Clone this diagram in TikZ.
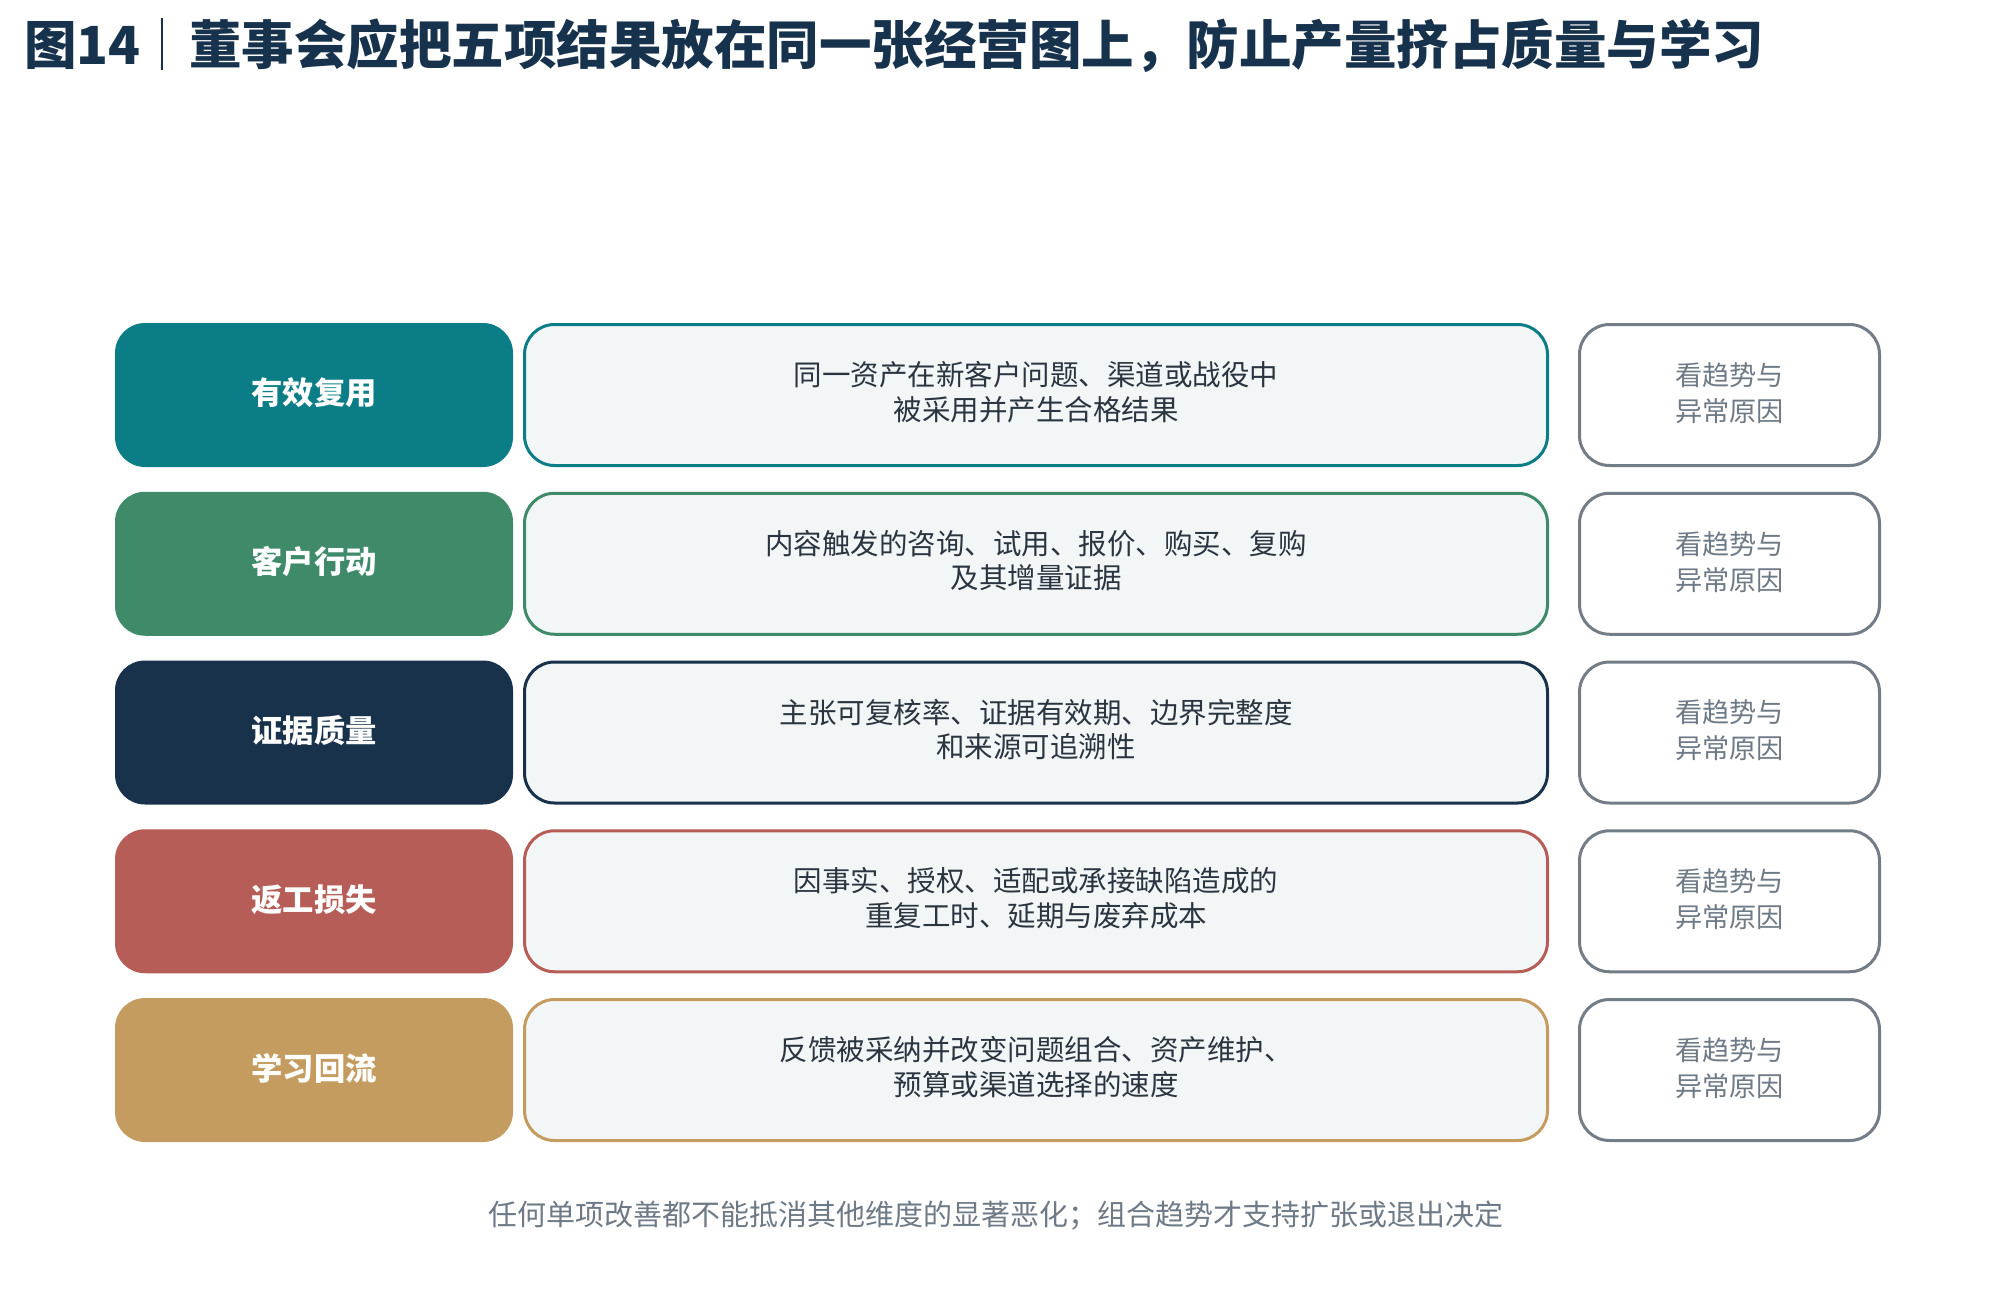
\documentclass[tikz,border=0pt]{standalone}
\usepackage{fontspec}
\setmainfont{Noto Sans CJK SC}
\definecolor{cteal}{HTML}{0A7D87}
\definecolor{cgreen}{HTML}{3F8B69}
\definecolor{cnavy}{HTML}{17324A}
\definecolor{cred}{HTML}{B55D56}
\definecolor{cgold}{HTML}{C49C5F}
\definecolor{midfill}{HTML}{F2F6F7}
\definecolor{grayline}{HTML}{727D88}
\definecolor{graytext}{HTML}{6E7A86}
\definecolor{midtext}{HTML}{2B3540}
\definecolor{titlecol}{HTML}{17324D}
\begin{document}
\begin{tikzpicture}[x=1pt,y=-1pt,
  labelbox/.style={rectangle, rounded corners=30pt, minimum width=398pt, minimum height=144pt, inner sep=0pt},
  labeltext/.style={inner sep=0pt, text=white, font=\fontsize{31.3}{36}\selectfont\bfseries},
  descbox/.style={rectangle, rounded corners=30pt, draw=#1, line width=3pt, fill=midfill, minimum width=1023pt, minimum height=141pt, inner sep=0pt},
  desctext/.style={inner sep=0pt, align=center, text=midtext, font=\fontsize{28.5}{34.5}\selectfont},
  trendbox/.style={rectangle, rounded corners=30pt, draw=grayline, line width=3pt, fill=white, minimum width=300pt, minimum height=141pt, inner sep=0pt},
  trendtext/.style={inner sep=0pt, align=center, text=graytext, font=\fontsize{27.2}{36}\selectfont},
  titletext/.style={inner sep=0pt, anchor=base west, text=titlecol, font=\fontsize{52.5}{60}\selectfont\bfseries},
]
\useasboundingbox (0,0) rectangle (1995,1301);
\fill[white] (0,0) rectangle (1995,1301);

% title
\node[titletext] (t1) at (24,64) {图14};
\node[titletext] (t2) at (189,64) {董事会应把五项结果放在同一张经营图上，防止产量挤占质量与学习};
\coordinate (barTop) at (162,18);
\coordinate (barBot) at (162,70);
\draw[titlecol, line width=2pt] (barTop) -- (barBot);

% rows
\foreach \i/\col/\lab/\la/\lb in {
  0/cteal/有效复用/同一资产在新客户问题、渠道或战役中/被采用并产生合格结果,
  1/cgreen/客户行动/内容触发的咨询、试用、报价、购买、复购/及其增量证据,
  2/cnavy/证据质量/主张可复核率、证据有效期、边界完整度/和来源可追溯性,
  3/cred/返工损失/因事实、授权、适配或承接缺陷造成的/重复工时、延期与废弃成本,
  4/cgold/学习回流/反馈被采纳并改变问题组合、资产维护、/预算或渠道选择的速度}
{
  \pgfmathsetmacro{\yc}{395+\i*168.75}
  \node[labelbox, fill=\col] (lab\i) at (314,\yc) {};
  \node[labeltext] (labt\i) at (314,\yc-2) {\lab};
  \node[descbox=\col] (desc\i) at (1036,\yc) {};
  \node[desctext] (desct\i) at (1036,\yc-3) {\la\\\lb};
  \node[trendbox] (trend\i) at (1729.5,\yc) {};
  \node[trendtext] (trendt\i) at (1729.5,\yc-2) {看趋势与\\异常原因};
}

% footer
\node[inner sep=0pt, anchor=base, text=graytext, font=\fontsize{29}{34}\selectfont] (foot) at (996,1225) {任何单项改善都不能抵消其他维度的显著恶化；组合趋势才支持扩张或退出决定};
\end{tikzpicture}
\end{document}
